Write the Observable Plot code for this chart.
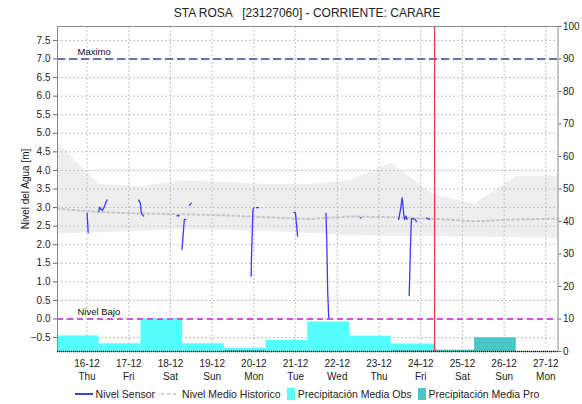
<!DOCTYPE html>
<html><head><meta charset="utf-8">
<script src="https://cdn.jsdelivr.net/npm/d3@7"></script>
<script src="https://cdn.jsdelivr.net/npm/@observablehq/plot@0.6"></script>
<style>
body{margin:0;background:#fff;font-family:"Liberation Sans",Arial,sans-serif;}
#wrap{position:relative;width:582px;height:404px;overflow:hidden;}
#title{position:absolute;left:0;top:6px;width:614px;text-align:center;font-size:12px;color:#222;white-space:pre;line-height:14px;}
#chart{position:absolute;left:0;top:22px;}
#legend{position:absolute;left:0;top:388px;width:614px;display:flex;justify-content:center;align-items:center;font-size:10.5px;color:#222;white-space:nowrap;}
#legend .it{display:flex;align-items:center;margin:0 3px;}
#legend svg{margin-right:3px;}
</style></head><body>
<div id="wrap">
<div id="title">STA ROSA   [23127060] - CORRIENTE: CARARE</div>
<div id="chart"></div>
<div id="legend"></div>
</div>
<script>
// ---- data ----
const xStart = "2021-12-15T07:00";
const xEnd = "2021-12-27T07:00";
const tickDays = ["2021-12-16T00:00","2021-12-17T00:00","2021-12-18T00:00","2021-12-19T00:00","2021-12-20T00:00","2021-12-21T00:00","2021-12-22T00:00","2021-12-23T00:00","2021-12-24T00:00","2021-12-25T00:00","2021-12-26T00:00","2021-12-27T00:00"];
const levelTicks = [-0.5,0,0.5,1,1.5,2,2.5,3,3.5,4,4.5,5,5.5,6,6.5,7,7.5];
const precipTicks = [0,10,20,30,40,50,60,70,80,90,100];

// historic band and mean, daily at 07:00
const histTime = ["2021-12-15T07:00","2021-12-16T07:00","2021-12-17T07:00","2021-12-18T07:00","2021-12-19T07:00","2021-12-20T07:00","2021-12-21T07:00","2021-12-22T07:00","2021-12-23T07:00","2021-12-24T07:00","2021-12-25T07:00","2021-12-26T07:00","2021-12-27T07:00"];
const histUpper = [4.75,3.62,3.57,3.72,3.68,3.62,3.62,3.72,4.20,3.36,3.09,3.84,3.84];
const histLower = [2.28,2.32,2.36,2.40,2.38,2.36,2.30,2.25,2.22,2.22,2.20,2.18,2.17];
const histMean  = [2.97,2.88,2.84,2.82,2.79,2.74,2.69,2.76,2.74,2.70,2.63,2.68,2.70];

// precipitation (mm), daily 07:00 -> 07:00
const obsStart = ["2021-12-15T07:00","2021-12-16T07:00","2021-12-17T07:00","2021-12-18T07:00","2021-12-19T07:00","2021-12-20T07:00","2021-12-21T07:00","2021-12-22T07:00","2021-12-23T07:00"];
const obsEnd   = ["2021-12-16T07:00","2021-12-17T07:00","2021-12-18T07:00","2021-12-19T07:00","2021-12-20T07:00","2021-12-21T07:00","2021-12-22T07:00","2021-12-23T07:00","2021-12-24T08:00"];
const obsPrecip = [4.8,2.35,10.0,2.35,1.0,3.4,9.1,4.7,2.3];
const proStart = ["2021-12-19T07:00","2021-12-23T07:00","2021-12-24T08:00","2021-12-25T07:00"];
const proEnd   = ["2021-12-20T07:00","2021-12-24T08:00","2021-12-25T07:00","2021-12-26T07:00"];
const proPrecip = [0.3,0.3,0.4,4.2];

// sensor level (m); null separates gaps
const sensorTime = [
"2021-12-16T00:00","2021-12-16T00:20","2021-12-16T00:40", null,
"2021-12-16T06:40","2021-12-16T07:15","2021-12-16T08:05","2021-12-16T08:50","2021-12-16T09:35","2021-12-16T10:25","2021-12-16T11:30", null,
"2021-12-17T05:40","2021-12-17T06:40","2021-12-17T07:05","2021-12-17T07:40","2021-12-17T08:35", null,
"2021-12-18T03:50","2021-12-18T05:00", null,
"2021-12-18T06:40","2021-12-18T07:00","2021-12-18T07:35","2021-12-18T08:00","2021-12-18T08:45", null,
"2021-12-18T10:50","2021-12-18T12:00", null,
"2021-12-19T22:25","2021-12-19T22:35","2021-12-19T23:10","2021-12-19T23:30","2021-12-19T23:55", null,
"2021-12-20T01:25","2021-12-20T02:45", null,
"2021-12-20T22:55","2021-12-20T23:55","2021-12-21T00:15","2021-12-21T00:50","2021-12-21T01:10", null,
"2021-12-21T17:30","2021-12-21T17:55","2021-12-21T18:30","2021-12-21T19:05", null,
"2021-12-22T13:20","2021-12-22T13:40", null,
"2021-12-23T11:20","2021-12-23T12:20","2021-12-23T13:20","2021-12-23T13:40","2021-12-23T14:15","2021-12-23T14:45","2021-12-23T15:35","2021-12-23T16:10", null,
"2021-12-23T17:20","2021-12-23T17:40","2021-12-23T18:15","2021-12-23T18:40","2021-12-23T21:00","2021-12-23T21:30", null,
"2021-12-24T03:15","2021-12-24T05:10"
];
const sensorLevel = [
2.85,2.60,2.32, null,
2.90,3.01,2.95,2.92,2.99,3.08,3.21, null,
3.20,3.12,2.90,2.81,2.77, null,
2.78,2.78, null,
1.87,2.09,2.45,2.68,2.68, null,
3.06,3.12, null,
1.15,1.60,2.50,2.95,2.99, null,
3.00,3.00, null,
2.87,2.86,2.68,2.41,2.23, null,
2.85,2.14,0.70,0.03, null,
2.73,2.72, null,
2.68,2.94,3.26,3.12,2.81,2.68,2.77,2.68, null,
0.63,1.15,2.18,2.70,2.68,2.62, null,
2.72,2.68
];

const nowTime = "2021-12-24T08:00";
const maxLevel = 7.0, lowLevel = 0.0;
const labels = {max:"Maximo", low:"Nivel Bajo", yTitle:"Nivel del Agua [m]"};
const legendItems = ["Nivel Sensor","Nivel Medio Historico","Precipitación Media Obs","Precipitación Media Pro"];

// ---- build ----
const T = s => s == null ? null : new Date(s + ":00Z");
const p2m = d3.scaleLinear([0,100],[-0.875,7.875]);
const hist = histTime.map((t,i)=>({t:T(t), hi:histUpper[i], lo:histLower[i], m:histMean[i]}));
const obs = obsStart.map((t,i)=>({t1:T(t), t2:T(obsEnd[i]), v:obsPrecip[i]}));
const pro = proStart.map((t,i)=>({t1:T(t), t2:T(proEnd[i]), v:proPrecip[i]}));
const sensor = sensorTime.map((t,i)=>({t:T(t), v:sensorLevel[i]}));
const ticks = tickDays.map(T);
const fD = d3.utcFormat("%d-%m"), fW = d3.utcFormat("%a");
const gridStyle = {stroke:"#c2c2c2", strokeOpacity:1, strokeDasharray:"2,2", strokeWidth:1};

const chart = Plot.plot({
  width:582, height:360,
  marginLeft:57, marginRight:24.5, marginTop:4, marginBottom:31,
  style:{fontFamily:"'Liberation Sans', Arial, sans-serif", fontSize:"10px", background:"white", color:"#222", overflow:"visible"},
  x:{type:"utc", domain:[T(xStart), T(xEnd)]},
  y:{domain:[-0.875, 7.875]},
  marks:[
    Plot.areaY(hist, {x:"t", y1:"lo", y2:"hi", fill:"#eeeeee"}),
    Plot.gridX(ticks, gridStyle),
    Plot.gridY(levelTicks, gridStyle),
    Plot.rect(obs, {x1:"t1", x2:"t2", y1:()=>p2m(0), y2:d=>p2m(d.v), fill:"#55ffff"}),
    Plot.rect(pro, {x1:"t1", x2:"t2", y1:()=>p2m(0), y2:d=>p2m(d.v), fill:"#47c7c7"}),
    Plot.line(hist, {x:"t", y:"m", stroke:"#c6c6c6", strokeWidth:2, strokeDasharray:"2,3"}),
    Plot.ruleY([maxLevel], {stroke:"#6673aa", strokeWidth:2, strokeDasharray:"8,4"}),
    Plot.ruleY([lowLevel], {stroke:"#e645f0", strokeWidth:2, strokeDasharray:"6,4"}),
    Plot.text([labels.max], {frameAnchor:"left", y:()=>maxLevel, dx:20, dy:-7, textAnchor:"start", fontSize:9.5, fill:"#111"}),
    Plot.text([labels.low], {frameAnchor:"left", y:()=>lowLevel, dx:20, dy:-7, textAnchor:"start", fontSize:9.5, fill:"#111"}),
    Plot.line(sensor, {x:"t", y:"v", stroke:"#3a3aff", strokeWidth:1.3}),
    Plot.ruleX([T(nowTime)], {stroke:"#e03c3c", strokeWidth:1.3}),
    Plot.frame({stroke:"#8a8a8a"}),
    Plot.ruleY([-0.875], {stroke:"#111", strokeDasharray:"1,1", strokeWidth:1.5}),
    Plot.axisY(levelTicks, {anchor:"left", tickFormat:d3.format(".1f"), tickSize:4, tickPadding:3, label:null, stroke:"#666"}),
    Plot.axisY(precipTicks.map(p2m), {anchor:"right", tickFormat:d=>String(Math.round(p2m.invert(d))), tickSize:3, tickPadding:2, label:null, stroke:"#666"}),
    Plot.axisX(ticks, {anchor:"bottom", tickSize:0, tickPadding:6, lineHeight:1.3, tickFormat:d=>fD(d)+"\n"+fW(d), label:null}),
    Plot.text([labels.yTitle], {frameAnchor:"left", textAnchor:"middle", rotate:-90, dx:-32, fontSize:10, fill:"#111"})
  ]
});
document.getElementById("chart").appendChild(chart);

// legend
const sw = {
  0:'<svg width="18" height="10"><line x1="0" y1="5" x2="18" y2="5" stroke="#0000dd" stroke-width="1.5"/></svg>',
  1:'<svg width="18" height="10"><line x1="0" y1="5" x2="18" y2="5" stroke="#c0c0c0" stroke-width="1.5" stroke-dasharray="3,3"/></svg>',
  2:'<svg width="8" height="12"><rect width="8" height="12" fill="#55ffff"/></svg>',
  3:'<svg width="8" height="12"><rect width="8" height="12" fill="#47c7c7"/></svg>'
};
document.getElementById("legend").innerHTML = legendItems.map((s,i)=>`<span class="it">${sw[i]}${s}</span>`).join("");
</script>
</body></html>
